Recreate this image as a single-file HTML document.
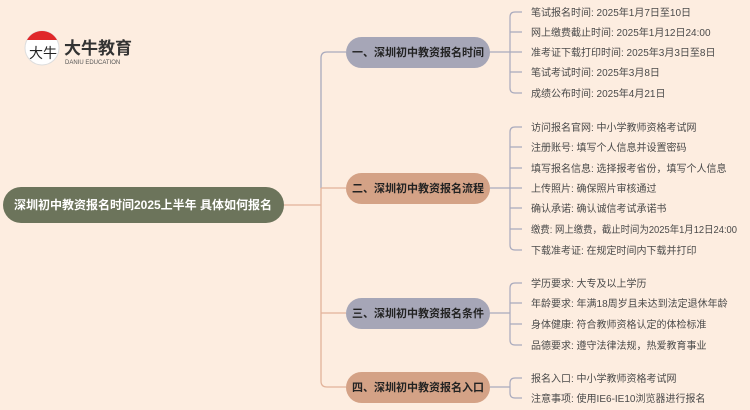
<!DOCTYPE html>
<html><head><meta charset="utf-8"><style>
body{margin:0;background:#fdede0;}
svg{display:block}
text{font-family:"Liberation Sans","Noto Sans CJK SC",sans-serif;}
.l{font-size:10px;fill:#4a4a4a}
.b{font-size:11px;font-weight:bold;fill:#222}
</style></head><body>
<svg width="750" height="410" viewBox="0 0 750 410" xmlns="http://www.w3.org/2000/svg">
<rect width="750" height="410" fill="#fdede0"/>
<circle cx="42" cy="48" r="17" fill="#fff" stroke="#ddd"/>
<path d="M27 40 A17 17 0 0 1 57 40 Z" fill="#e0282a"/>
<text x="29" y="58" font-size="14" fill="#222" font-family="Liberation Serif,Noto Serif CJK SC,serif">大牛</text>
<text x="64" y="54" font-size="17" font-weight="bold" fill="#333">大牛教育</text>
<text x="65" y="64" font-size="6" fill="#555">DANIU EDUCATION</text>
<rect x="3" y="187" width="281" height="36" rx="18" fill="#6c745b"/>
<text x="143" y="209" text-anchor="middle" font-size="12" font-weight="bold" fill="#fff">深圳初中教资报名时间2025上半年 具体如何报名</text>
<line x1="284" y1="205" x2="321" y2="205" stroke="#e2b39a" stroke-width="1.3"/>
<path d="M346 52 H327 Q321 52 321 58 V188" fill="none" stroke="#a9aabd" stroke-width="1.3"/>
<path d="M321 188 H346 M321 188 V381 Q321 387 327 387 H346" fill="none" stroke="#e2b39a" stroke-width="1.3"/>
<path d="M321 313 H346" fill="none" stroke="#e2b39a" stroke-width="1.3"/>
<rect x="346" y="37" width="144" height="31" rx="15.5" fill="#a6a6b7"/>
<text x="418" y="56" text-anchor="middle" class="b">一、深圳初中教资报名时间</text>
<rect x="346" y="173" width="144" height="31" rx="15.5" fill="#d4a286"/>
<text x="418" y="192" text-anchor="middle" class="b">二、深圳初中教资报名流程</text>
<rect x="346" y="298" width="144" height="31" rx="15.5" fill="#a6a6b7"/>
<text x="418" y="317" text-anchor="middle" class="b">三、深圳初中教资报名条件</text>
<rect x="346" y="372" width="144" height="31" rx="15.5" fill="#d4a286"/>
<text x="418" y="391" text-anchor="middle" class="b">四、深圳初中教资报名入口</text>
<g fill="none" stroke="#a9aabd" stroke-width="1.2">
<path d="M490 52 H510"/><path d="M522 12 H515 Q510 12 510 17 V88 Q510 93 515 93 H522"/>
<path d="M510 32 H522 M510 52 H522 M510 72 H522"/>
<path d="M490 188 H510"/><path d="M522 127 H515 Q510 127 510 132 V245 Q510 250 515 250 H522"/>
<path d="M510 147 H522 M510 168 H522 M510 188 H522 M510 208 H522 M510 229 H522"/>
<path d="M490 313 H510"/><path d="M522 283 H515 Q510 283 510 288 V340 Q510 345 515 345 H522"/>
<path d="M510 303 H522 M510 324 H522"/>
<path d="M490 387 H510"/><path d="M522 378 H515 Q510 378 510 383 V393 Q510 398 515 398 H522"/>
</g>
<g class="l">
<text x="531" y="16">笔试报名时间: 2025年1月7日至10日</text>
<text x="531" y="36">网上缴费截止时间: 2025年1月12日24:00</text>
<text x="531" y="56">准考证下载打印时间: 2025年3月3日至8日</text>
<text x="531" y="76">笔试考试时间: 2025年3月8日</text>
<text x="531" y="97">成绩公布时间: 2025年4月21日</text>
<text x="531" y="131">访问报名官网: 中小学教师资格考试网</text>
<text x="531" y="151">注册账号: 填写个人信息并设置密码</text>
<text x="531" y="172">填写报名信息: 选择报考省份，填写个人信息</text>
<text x="531" y="192">上传照片: 确保照片审核通过</text>
<text x="531" y="212">确认承诺: 确认诚信考试承诺书</text>
<text x="531" y="233" textLength="206" lengthAdjust="spacingAndGlyphs">缴费: 网上缴费，截止时间为2025年1月12日24:00</text>
<text x="531" y="254">下载准考证: 在规定时间内下载并打印</text>
<text x="531" y="287">学历要求: 大专及以上学历</text>
<text x="531" y="307">年龄要求: 年满18周岁且未达到法定退休年龄</text>
<text x="531" y="328">身体健康: 符合教师资格认定的体检标准</text>
<text x="531" y="349">品德要求: 遵守法律法规，热爱教育事业</text>
<text x="531" y="382">报名入口: 中小学教师资格考试网</text>
<text x="531" y="402">注意事项: 使用IE6-IE10浏览器进行报名</text>
</g>
</svg>
</body></html>
